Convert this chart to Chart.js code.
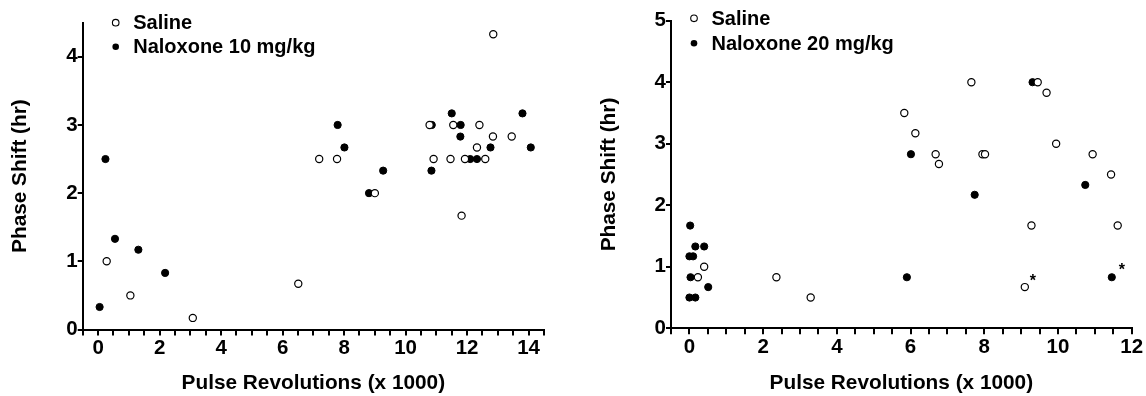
<!DOCTYPE html>
<html>
<head>
<meta charset="utf-8">
<script src="https://cdn.jsdelivr.net/npm/chart.js@4/dist/chart.umd.min.js"></script>
<style>
  html, body { margin: 0; padding: 0; background: #fff; }
  .panel { position: absolute; top: 0; width: 573px; height: 396px; }
</style>
</head>
<body>
<div class="panel" style="left:0"><canvas id="left"></canvas></div>
<div class="panel" style="left:573px"><canvas id="right"></canvas></div>
<script>
// left panel: saline vs naloxone 10 mg/kg
const salineX10 = [0.28, 1.05, 3.08, 6.51, 7.19, 7.77, 9.0, 10.78, 10.91, 11.46, 11.55, 11.82, 11.93, 12.32, 12.4, 12.59, 12.84, 12.85, 13.45];
const salineY10 = [1.0, 0.5, 0.17, 0.67, 2.5, 2.5, 2.0, 3.0, 2.5, 2.5, 3.0, 1.67, 2.5, 2.67, 3.0, 2.5, 2.83, 4.33, 2.83];
const naloxX10 = [0.05, 0.24, 0.55, 1.31, 2.18, 7.79, 8.01, 8.81, 9.27, 10.84, 10.85, 11.5, 11.78, 11.79, 12.1, 12.32, 12.76, 13.8, 14.07];
const naloxY10 = [0.33, 2.5, 1.33, 1.17, 0.83, 3.0, 2.67, 2.0, 2.33, 2.33, 3.0, 3.17, 2.83, 3.0, 2.5, 2.5, 2.67, 3.17, 2.67];

// right panel: saline vs naloxone 20 mg/kg
const salineX20 = [0.23, 0.4, 2.36, 3.29, 5.83, 6.13, 6.68, 6.77, 7.65, 7.95, 8.02, 9.1, 9.28, 9.45, 9.69, 9.95, 10.94, 11.44, 11.62];
const salineY20 = [0.83, 1.0, 0.83, 0.5, 3.5, 3.17, 2.83, 2.67, 4.0, 2.83, 2.83, 0.67, 1.67, 4.0, 3.83, 3.0, 2.83, 2.5, 1.67];
const naloxX20 = [0.0, 0.16, 0.03, 0.51, 0.0, 0.1, 0.16, 0.4, 0.02, 5.9, 6.01, 7.74, 9.31, 10.74, 11.46];
const naloxY20 = [0.5, 0.5, 0.83, 0.67, 1.17, 1.17, 1.33, 1.33, 1.67, 0.83, 2.83, 2.17, 4.0, 2.33, 0.83];

// points marked with an asterisk (right panel)
const starX20 = [9.1, 11.46];
const starY20 = [0.67, 0.83];

const xTitle = "Pulse Revolutions (x 1000)";
const yTitle = "Phase Shift (hr)";

const FONT = "'Liberation Sans', Arial, Helvetica, sans-serif";

function pts(xs, ys) {
  return xs.map((x, i) => ({ x: x, y: ys[i] }));
}

// legend drawn inside the plot, like the original figure
const insideLegend = {
  id: "insideLegend",
  afterDraw(chart, args, opts) {
    const ctx = chart.ctx;
    const a = chart.chartArea;
    ctx.save();
    ctx.font = "bold 20px " + FONT;
    ctx.textBaseline = "middle";
    ctx.fillStyle = "#000";
    opts.items.forEach((it, i) => {
      const mx = a.left + opts.dx;
      const my = a.top + opts.dy + i * opts.gap;
      ctx.beginPath();
      ctx.arc(mx, my, 3.3, 0, Math.PI * 2);
      if (it.filled) {
        ctx.fillStyle = "#000";
        ctx.fill();
      } else {
        ctx.fillStyle = "#fff";
        ctx.fill();
        ctx.lineWidth = 1.1;
        ctx.strokeStyle = "#000";
        ctx.stroke();
      }
      ctx.fillStyle = "#000";
      ctx.fillText(it.text, mx + 17.5, my + 1);
    });
    ctx.restore();
  }
};

// asterisks next to some points
const stars = {
  id: "stars",
  afterDatasetsDraw(chart, args, opts) {
    if (!opts.xs) return;
    const ctx = chart.ctx;
    const sx = chart.scales.x, sy = chart.scales.y;
    ctx.save();
    ctx.font = "bold 16px " + FONT;
    ctx.fillStyle = "#000";
    ctx.textAlign = "center";
    ctx.textBaseline = "middle";
    opts.xs.forEach((x, i) => {
      ctx.fillText("*", sx.getPixelForValue(x) + opts.ox[i], sy.getPixelForValue(opts.ys[i]) + opts.oy[i]);
    });
    ctx.restore();
  }
};

function makeChart(id, cfg) {
  const salineSet = {
    label: "Saline",
    data: pts(cfg.sx, cfg.sy),
    pointRadius: 3.6,
    pointBorderWidth: 1.2,
    pointBackgroundColor: "#fff",
    pointBorderColor: "#000",
    showLine: false
  };
  const naloxSet = {
    label: cfg.naloxLabel,
    data: pts(cfg.nx, cfg.ny),
    pointRadius: 3.6,
    pointBorderWidth: 1,
    pointBackgroundColor: "#000",
    pointBorderColor: "#000",
    showLine: false
  };
  return new Chart(document.getElementById(id), {
    type: "scatter",
    data: { datasets: [salineSet, naloxSet] },
    options: {
      responsive: true,
      maintainAspectRatio: false,
      animation: false,
      layout: { padding: { top: cfg.padTop, right: cfg.padRight, bottom: 0, left: 0 } },
      plugins: {
        legend: { display: false },
        tooltip: { enabled: false },
        insideLegend: {
          dx: cfg.legDx, dy: cfg.legDy, gap: cfg.legGap,
          items: [{ text: "Saline", filled: false }, { text: cfg.naloxLabel, filled: true }]
        },
        stars: cfg.stars || {}
      },
      scales: {
        x: {
          type: "linear",
          min: -0.5,
          max: cfg.xMax,
          afterFit: (s) => { s.height = cfg.xAxisH; },
          border: { display: true, color: "#000", width: 2 },
          grid: { drawOnChartArea: false, drawTicks: true, tickLength: 6, color: "#000", lineWidth: 2 },
          ticks: {
            stepSize: 0.5,
            autoSkip: false,
            maxRotation: 0,
            padding: 1,
            color: "#000",
            font: { family: FONT, size: 20.5, weight: "bold" },
            callback: (v) => (Math.abs(v % 2) < 1e-6 ? String(v) : "")
          },
          title: {
            display: true,
            text: xTitle,
            color: "#000",
            font: { family: FONT, size: 20.8, weight: "bold", lineHeight: 1 },
            padding: { top: 0, bottom: 2 }
          }
        },
        y: {
          type: "linear",
          min: 0,
          max: cfg.yMax,
          afterFit: (s) => { s.width = cfg.yAxisW; },
          afterBuildTicks: (s) => { s.ticks = s.ticks.filter((t) => Number.isInteger(t.value)); },
          border: { display: true, color: "#000", width: 2 },
          grid: { drawOnChartArea: false, drawTicks: true, tickLength: 5, color: "#000", lineWidth: 2 },
          ticks: {
            stepSize: 1,
            padding: 0,
            color: "#000",
            font: { family: FONT, size: 20.5, weight: "bold" }
          },
          title: {
            display: true,
            text: yTitle,
            color: "#000",
            font: { family: FONT, size: 20.8, weight: "bold", lineHeight: 1 },
            padding: { top: cfg.yTitlePad, bottom: 0 }
          }
        }
      }
    },
    plugins: [insideLegend, stars]
  });
}

makeChart("left", {
  sx: salineX10, sy: salineY10, nx: naloxX10, ny: naloxY10,
  naloxLabel: "Naloxone 10 mg/kg",
  xMax: 14.5, yMax: 4.5,
  padTop: 22.7, padRight: 29, xAxisH: 66.5, yAxisW: 82.7, yTitlePad: 9.5,
  legDx: 33, legDy: 0, legGap: 24
});

makeChart("right", {
  sx: salineX20, sy: salineY20, nx: naloxX20, ny: naloxY20,
  naloxLabel: "Naloxone 20 mg/kg",
  xMax: 12, yMax: 5,
  padTop: 20.7, padRight: 14.3, xAxisH: 67.7, yAxisW: 98, yTitlePad: 26.2,
  legDx: 23, legDy: -2.4, legGap: 25,
  stars: { xs: starX20, ys: starY20, ox: [8, 10], oy: [-5, -7] }
});
</script>
</body>
</html>
